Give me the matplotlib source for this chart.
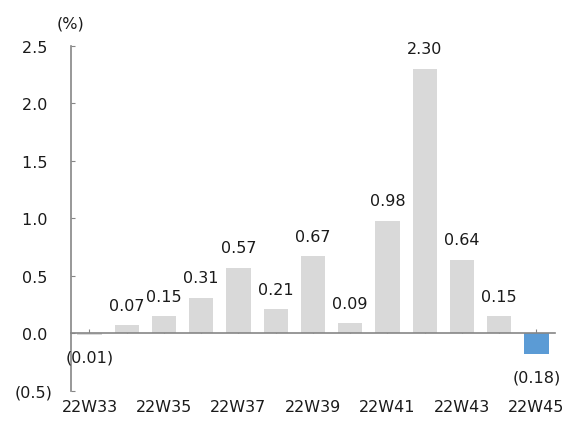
import numpy as np
import matplotlib.pyplot as plt

weeks = ['22W33', '22W34', '22W35', '22W36', '22W37', '22W38', '22W39',
         '22W40', '22W41', '22W42', '22W43', '22W44', '22W45']
values = [-0.01, 0.07, 0.15, 0.31, 0.57, 0.21, 0.67, 0.09, 0.98, 2.30, 0.64, 0.15, -0.18]
yticks = [-0.5, 0.0, 0.5, 1.0, 1.5, 2.0, 2.5]

gray = '#d9d9d9'
blue = '#5b9bd5'
txt = '#1a1a1a'
axcol = '#868686'

plt.rcParams['font.family'] = 'DejaVu Sans'
plt.rcParams['font.size'] = 11.5

fig = plt.figure(figsize=(5.67, 4.27), dpi=100)
ax = fig.add_axes([0.125, 0.082, 0.854, 0.808])

x = np.arange(len(weeks))
colors = [gray] * (len(values) - 1) + [blue]
ax.bar(x, values, width=0.65, color=colors, zorder=2)

def fmt(v):
    if v < 0:
        return '({:.2f})'.format(-v)
    return '{:.2f}'.format(v)

for xi, v in zip(x, values):
    if v >= 0:
        ax.annotate(fmt(v), (xi, v), xytext=(0, 9), textcoords='offset points',
                    ha='center', va='bottom', color=txt)
    else:
        ax.annotate(fmt(v), (xi, v), xytext=(0, -11), textcoords='offset points',
                    ha='center', va='top', color=txt)

ax.set_xlim(-0.5, len(weeks) - 0.5)
ax.set_ylim(-0.5, 2.5)

# y axis like excel: 0.0;(0.0)
ylabels = ['({:.1f})'.format(-t) if t < 0 else '{:.1f} '.format(t) for t in yticks]
ax.set_yticks(yticks)
ax.set_yticklabels(ylabels, color=txt)
ax.tick_params(axis='y', direction='in', length=3, color=axcol, pad=13)

# category axis sits on zero, labels at the bottom
ax.spines['bottom'].set_position(('data', 0))
ax.set_xticks(x)
ax.set_xticklabels([w if i % 2 == 0 else '' for i, w in enumerate(weeks)], color=txt)
ax.tick_params(axis='x', direction='in', length=3, color=axcol, pad=47)

for s in ['top', 'right']:
    ax.spines[s].set_visible(False)
ax.spines['left'].set_color(axcol)
ax.spines['bottom'].set_color(axcol)
ax.spines['left'].set_linewidth(1.2)
ax.spines['bottom'].set_linewidth(1.2)

ax.text(0, 1.045, '(%)', transform=ax.transAxes, ha='center', va='bottom', color=txt)

fig.savefig('out.png', dpi=100)
